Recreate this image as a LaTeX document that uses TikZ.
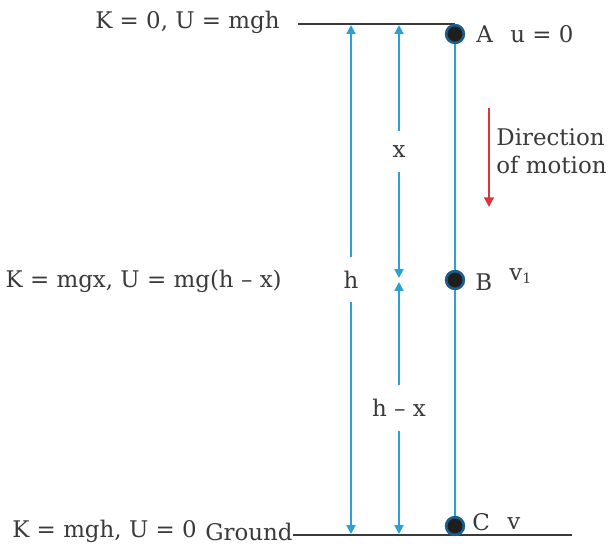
\documentclass[tikz,border=0pt]{standalone}
\usepackage{fontspec}
\setmainfont{DejaVu Serif}
\usepackage{tikz}
\usetikzlibrary{positioning, calc, arrows.meta}
\definecolor{fallCyan}{HTML}{2AA0D6}
\definecolor{fallRed}{HTML}{D8363C}
\definecolor{fallInk}{HTML}{3A3A3A}
\definecolor{fallDot}{HTML}{1E1E1E}
\definecolor{fallRim}{HTML}{1B5E8C}

\begin{document}
\begin{tikzpicture}[
    x=0.567pt, y=-0.567pt,
    txt/.style={font=\fontsize{13}{16}\selectfont, text=fallInk, inner sep=0pt},
    pt/.style={circle, draw=fallRim, fill=fallDot, line width=1.4pt, minimum size=10pt, inner sep=0pt},
    lvl/.style={line width=1.3pt, fallInk},
    rod/.style={line width=1.3pt, fallCyan},
    dim/.style={{Triangle[length=5pt, width=5pt]}-{Triangle[length=5pt, width=5pt]}, line width=1.2pt, fallCyan},
    gap/.style={txt, fill=white, inner xsep=3pt, inner ysep=8pt},
    mov/.style={-{Triangle[length=5.5pt, width=5.5pt]}, line width=1.2pt, fallRed},
]
\useasboundingbox (0,0) rectangle (615,550);

% levels
\coordinate (topL) at (298,24);
\coordinate (topR) at (455,24);
\node[txt, anchor=west] (gnd) at (205,532) {Ground};
\coordinate (gndR) at (572,535);
\draw[lvl] (topL) -- (topR);
\draw[lvl] (gnd.east |- gndR) -- (gndR);

% energy at each level
\node[txt, anchor=east] (eA) at (280,22)  {K = 0, U = mgh};
\node[txt, anchor=east] (eB) at (282,281) {K = mgx, U = mg(h -- x)};
\node[txt, anchor=west] (eC) at (12,531)  {K = mgh, U = 0};

% path of the body
\node[pt] (A) at (455,34)  {};
\node[pt] (B) at (455,280) {};
\node[pt] (C) at (455,526) {};
\draw[rod] (A.center) -- (B.center) -- (C.center);
\node[pt] at (A) {};
\node[pt] at (B) {};
\node[pt] at (C) {};

\node[txt, anchor=west] (lA) at (476,34)  {A};
\node[txt, anchor=west] (uA) at (510,34)  {u = 0};
\node[txt, anchor=west] (lB) at (475,282) {B};
\node[txt, anchor=west] (vB) at (509,276) {v\textsubscript{\fontsize{8}{9}\selectfont 1}};
\node[txt, anchor=west] (lC) at (472,522) {C};
\node[txt, anchor=west] (vC) at (507,524) {v};

% heights
\coordinate (hT)  at (351,25);
\coordinate (hB)  at (351,534);
\coordinate (xT)  at (399,25);
\coordinate (xB)  at (399,278);
\coordinate (rT)  at (399,282);
\coordinate (rB)  at (399,534);
\draw[dim] (hT) -- node[gap] (lh) {h} (hB);
\draw[dim] (xT) -- node[gap] (lx) {x} (xB);
\draw[dim] (rT) -- node[gap] (lr) {h -- x} (rB);

% motion
\coordinate (mT) at (489,108);
\coordinate (mB) at (489,207);
\draw[mov] (mT) -- (mB);
\node[txt, anchor=north west, align=left] (dir) at (496,128) {Direction\\of motion};
\end{tikzpicture}
\end{document}
